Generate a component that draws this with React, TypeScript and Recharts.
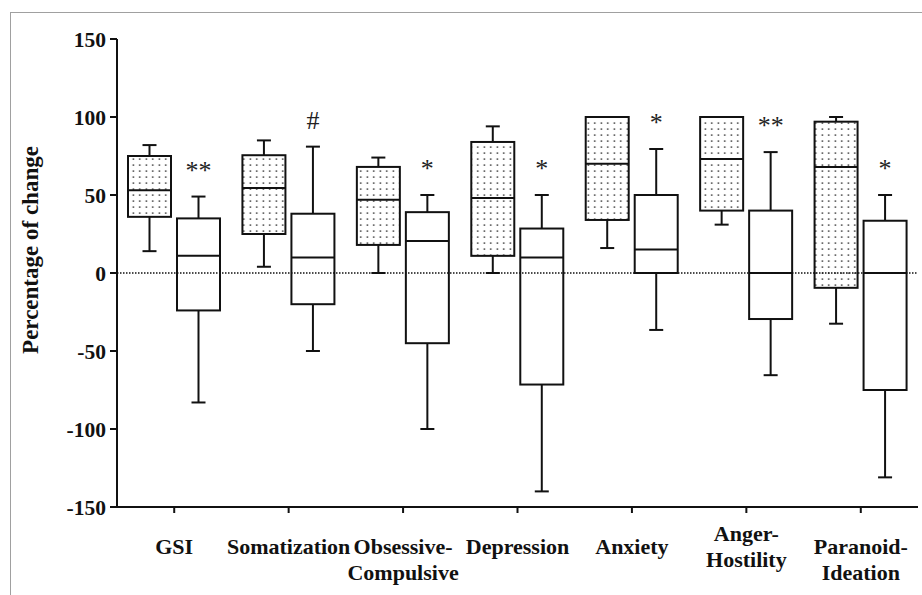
import React from "react";
import { ComposedChart, Bar, XAxis, YAxis, ReferenceLine, LabelList } from "recharts";

const categories = ["GSI", "Somatization", "Obsessive-Compulsive", "Depression", "Anxiety", "Anger-Hostility", "Paranoid-Ideation"];
const tickLabelLines = [["GSI"], ["Somatization"], ["Obsessive-", "Compulsive"], ["Depression"], ["Anxiety"], ["Anger-", "Hostility"], ["Paranoid-", "Ideation"]];

const preMin = [14, 4, 0, 0, 16, 31, -32.5];
const preQ1 = [36, 25, 18, 11, 34, 40, -9.5];
const preMed = [53, 54.5, 47, 48, 70, 73, 68];
const preQ3 = [75, 75.5, 68, 84, 100, 100, 97];
const preMax = [82, 85, 74, 94, 100, 100, 100];

const postMin = [-83, -50, -100, -140, -36.5, -65.5, -131];
const postQ1 = [-24, -20, -45, -71.5, 0, -29.5, -75];
const postMed = [11, 10, 20.5, 10, 15, 0, 0];
const postQ3 = [35, 38, 39, 28.5, 50, 40, 33.5];
const postMax = [49, 81, 50, 50, 79.5, 77.5, 50];

const significance = ["**", "#", "*", "*", "*", "**", "*"];

const yTicks = [-150, -100, -50, 0, 50, 100, 150];

const data = categories.map((name, i) => ({
  name,
  pre: { min: preMin[i], q1: preQ1[i], med: preMed[i], q3: preQ3[i], max: preMax[i] },
  post: { min: postMin[i], q1: postQ1[i], med: postMed[i], q3: postQ3[i], max: postMax[i] },
  sig: significance[i],
}));

const SERIF = "'Liberation Serif', 'Times New Roman', serif";
const INK = "#111";

function makeBox(key: "pre" | "post", fill: string) {
  return (props: any) => {
    const { x, y, width, height, payload } = props;
    const s = payload[key];
    const top = Math.min(y, y + height);
    const bottom = Math.max(y, y + height);
    const span = s.max - s.min;
    const py = (v: number) => bottom - ((v - s.min) / span) * (bottom - top);
    const cx = x + width / 2;
    const cap = 7;
    const yMax = py(s.max);
    const yQ3 = py(s.q3);
    const yMed = py(s.med);
    const yQ1 = py(s.q1);
    const yMin = py(s.min);
    return (
      <g>
        <line x1={cx} x2={cx} y1={yMax} y2={yQ3} stroke={INK} strokeWidth={2} />
        <line x1={cx} x2={cx} y1={yQ1} y2={yMin} stroke={INK} strokeWidth={2} />
        <line x1={cx - cap} x2={cx + cap} y1={yMax} y2={yMax} stroke={INK} strokeWidth={2} />
        <line x1={cx - cap} x2={cx + cap} y1={yMin} y2={yMin} stroke={INK} strokeWidth={2} />
        <rect x={x} y={yQ3} width={width} height={yQ1 - yQ3} fill={fill} stroke={INK} strokeWidth={2} />
        <line x1={x} x2={x + width} y1={yMed} y2={yMed} stroke={INK} strokeWidth={2} />
      </g>
    );
  };
}

const PreBox = makeBox("pre", "url(#dotFill)");
const PostBox = makeBox("post", "none");

const SigLabel = (props: any) => {
  const { x, y, width, height, value } = props;
  const top = Math.min(y, y + height);
  return (
    <text x={x + width / 2} y={top - 18} textAnchor="middle" fontFamily={SERIF} fontSize={26} fill="#222">
      {value}
    </text>
  );
};

const XTick = (props: any) => {
  const { x, y, payload, index } = props;
  const lines = tickLabelLines[index] || [payload.value];
  const centered = payload.value === "Anger-Hostility";
  const startY = centered ? y + 39 - 13 : y + 39;
  return (
    <g>
      {lines.map((ln: string, k: number) => (
        <text key={k} x={x} y={startY + k * 26} textAnchor="middle" fontFamily={SERIF} fontWeight="bold" fontSize={22} fill={INK}>
          {ln}
        </text>
      ))}
    </g>
  );
};

const YTitle = () => (
  <text x={38} y={250} transform="rotate(-90 38 250)" textAnchor="middle" fontFamily={SERIF} fontWeight="bold" fontSize={23} fill={INK}>
    Percentage of change
  </text>
);

export default function App() {
  return (
    <div style={{ position: "absolute", left: 0, top: 0, width: 922, height: 595, background: "#fff", overflow: "hidden" }}>
      <div style={{ position: "absolute", left: 10, top: 12, width: 920, height: 600, borderTop: "1.5px solid #a0a0a0", borderLeft: "1.5px solid #a0a0a0" }} />
      <svg width={0} height={0} style={{ position: "absolute" }}>
        <defs>
          <pattern id="dotFill" width={6.5} height={6} patternUnits="userSpaceOnUse">
            <rect x={0} y={0} width={6.5} height={6} fill="#fff" />
            <rect x={2.6} y={2.4} width={1.4} height={1.4} fill="#1a1a1a" />
          </pattern>
        </defs>
      </svg>
      <div style={{ position: "absolute", left: 0, top: 0 }}>
        <ComposedChart width={922} height={595} data={data} margin={{ top: 39, right: 4, left: 0, bottom: 0 }} barCategoryGap={11} barGap={6}>
          <XAxis
            dataKey="name"
            interval={0}
            height={88}
            tick={<XTick />}
            tickSize={6}
            axisLine={{ stroke: INK, strokeWidth: 2 }}
            tickLine={{ stroke: INK, strokeWidth: 2 }}
          />
          <YAxis
            type="number"
            domain={[-150, 150]}
            ticks={yTicks}
            allowDataOverflow
            width={117}
            tickSize={7}
            tickMargin={4}
            axisLine={{ stroke: INK, strokeWidth: 2 }}
            tickLine={{ stroke: INK, strokeWidth: 2 }}
            tick={{ fontFamily: SERIF, fontWeight: "bold", fontSize: 21.5, fill: INK }}
            label={<YTitle />}
          />
          <ReferenceLine y={0} stroke={INK} strokeWidth={1.5} strokeDasharray="1.5 1.5" />
          <Bar dataKey={(d: any) => [d.pre.min, d.pre.max]} shape={PreBox} isAnimationActive={false} />
          <Bar dataKey={(d: any) => [d.post.min, d.post.max]} shape={PostBox} isAnimationActive={false}>
            <LabelList dataKey="sig" content={<SigLabel />} />
          </Bar>
        </ComposedChart>
      </div>
    </div>
  );
}
